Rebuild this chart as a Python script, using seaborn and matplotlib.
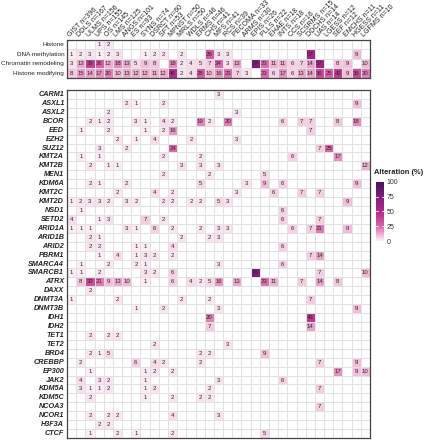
import matplotlib
matplotlib.use("Agg")
import matplotlib.pyplot as plt
from matplotlib.colors import LinearSegmentedColormap
import pandas as pd
import seaborn as sns

# column labels (sarcoma subtype, cohort size)
subtypes = ["GIST n=396", "DDLS n=167", "ULMS n=156", "UPS n=155", "OS n=145",
            "LMS n=125", "ANGS n=101", "ES n=93", "SYNS n=74", "DSRCT n=60",
            "SFT n=53", "MPNST n=50", "MRLS n=50", "WDLS n=46", "ERMS n=46",
            "CHS n=41", "MFS n=41", "RCS n=39", "PECOMA n=33", "ARMS n=30",
            "EPIS n=26", "PLLS n=22", "EHAE n=18", "INTS n=18", "CCS n=16",
            "SCSRMS n=15", "DDCHS n=14", "UAS n=14", "LGESS n=12", "SEF n=12",
            "EMCHS n=11", "HGESS n=11", "LGFMS n=10"]

# top panel: alteration (%) per functional class, 0 = none
categories = ["Histone", "DNA methylation", "Chromatin remodeling", "Histone modifying"]
histone = [0, 0, 0, 1, 2, 0, 0, 0, 0, 0, 0, 0, 0, 0, 0, 0, 0, 0, 0, 0, 0, 0, 0, 0, 0, 0, 0, 0, 0, 0, 0, 0, 0]
dna_methylation = [1, 2, 3, 1, 2, 3, 0, 0, 1, 2, 2, 0, 2, 0, 0, 29, 3, 3, 0, 0, 0, 0, 0, 0, 0, 0, 57, 0, 0, 0, 0, 9, 0]
chromatin_remodeling = [3, 13, 39, 26, 12, 18, 13, 5, 9, 8, 0, 18, 2, 4, 5, 7, 24, 3, 13, 0, 76, 23, 11, 11, 6, 7, 14, 57, 0, 8, 9, 0, 10]
histone_modifying = [8, 15, 14, 17, 20, 10, 13, 12, 12, 11, 12, 48, 2, 4, 28, 10, 16, 23, 7, 3, 0, 23, 6, 17, 6, 13, 14, 36, 25, 42, 9, 36, 20]

# bottom panel: alteration (%) per gene, 0 = none
genes = ["CARM1", "ASXL1", "ASXL2", "BCOR", "EED", "EZH2", "SUZ12", "KMT2A", "KMT2B",
         "MEN1", "KDM6A", "KMT2C", "KMT2D", "NSD1", "SETD2", "ARID1A", "ARID1B", "ARID2",
         "PBRM1", "SMARCA4", "SMARCB1", "ATRX", "DAXX", "DNMT3A", "DNMT3B", "IDH1", "IDH2",
         "TET1", "TET2", "BRD4", "CREBBP", "EP300", "JAK2", "KDM5A", "KDM5C", "NCOA3",
         "NCOR1", "H3F3A", "CTCF"]
carm1 = [0, 0, 0, 0, 0, 0, 0, 0, 0, 0, 0, 0, 0, 0, 0, 0, 3, 0, 0, 0, 0, 0, 0, 0, 0, 0, 0, 0, 0, 0, 0, 0, 0]
asxl1 = [0, 0, 0, 0, 0, 0, 2, 1, 0, 0, 2, 0, 0, 0, 0, 0, 0, 0, 0, 0, 0, 0, 0, 0, 0, 0, 0, 0, 0, 0, 0, 9, 0]
asxl2 = [0, 0, 0, 0, 2, 0, 0, 0, 0, 0, 0, 0, 0, 0, 0, 0, 0, 0, 3, 0, 0, 0, 0, 0, 0, 0, 0, 0, 0, 0, 0, 0, 0]
bcor = [0, 0, 2, 1, 2, 0, 0, 3, 1, 0, 4, 2, 0, 0, 19, 2, 0, 20, 0, 0, 0, 0, 0, 6, 0, 7, 7, 0, 0, 8, 0, 18, 0]
eed = [0, 1, 0, 0, 2, 0, 0, 0, 1, 0, 2, 16, 0, 0, 0, 0, 0, 0, 0, 0, 0, 0, 0, 0, 0, 0, 7, 0, 0, 0, 0, 0, 0]
ezh2 = [0, 0, 0, 0, 0, 2, 0, 1, 0, 4, 0, 0, 0, 2, 0, 0, 0, 0, 3, 0, 0, 0, 0, 0, 0, 0, 0, 0, 0, 0, 0, 0, 0]
suz12 = [0, 0, 0, 3, 0, 0, 2, 0, 0, 0, 0, 24, 0, 0, 0, 0, 0, 0, 0, 0, 0, 0, 0, 0, 0, 0, 0, 7, 25, 0, 0, 0, 0]
kmt2a = [0, 1, 0, 1, 0, 0, 0, 0, 0, 0, 2, 0, 0, 0, 2, 0, 0, 0, 0, 0, 0, 0, 0, 0, 6, 0, 0, 0, 0, 17, 0, 0, 0]
kmt2b = [0, 0, 2, 0, 1, 1, 0, 0, 0, 0, 0, 0, 3, 0, 3, 0, 3, 0, 0, 0, 0, 0, 0, 0, 0, 0, 0, 0, 0, 0, 0, 0, 12]
men1 = [0, 0, 0, 0, 0, 0, 0, 0, 0, 0, 2, 0, 0, 0, 0, 2, 0, 0, 0, 0, 0, 5, 0, 0, 0, 0, 0, 0, 0, 0, 0, 0, 0]
kdm6a = [0, 0, 2, 1, 0, 0, 2, 0, 0, 0, 0, 0, 0, 0, 5, 0, 0, 0, 0, 3, 0, 9, 0, 6, 0, 0, 0, 0, 0, 0, 0, 9, 0]
kmt2c = [0, 0, 0, 0, 0, 2, 0, 0, 0, 4, 0, 2, 0, 0, 0, 0, 0, 0, 3, 0, 0, 0, 6, 0, 0, 7, 0, 7, 0, 0, 0, 0, 0]
kmt2d = [1, 2, 3, 3, 2, 0, 3, 2, 0, 0, 2, 2, 0, 2, 2, 0, 5, 3, 0, 0, 0, 0, 0, 0, 0, 0, 0, 0, 0, 0, 9, 0, 0]
nsd1 = [0, 1, 0, 0, 0, 0, 0, 0, 0, 0, 0, 0, 0, 0, 0, 0, 0, 0, 0, 0, 0, 0, 0, 6, 0, 0, 0, 0, 0, 0, 0, 0, 0]
setd2 = [4, 0, 0, 1, 3, 0, 0, 0, 7, 0, 2, 0, 0, 0, 0, 0, 0, 0, 0, 0, 0, 0, 0, 6, 0, 0, 0, 7, 0, 0, 0, 0, 0]
arid1a = [1, 1, 1, 0, 0, 0, 3, 1, 0, 6, 0, 2, 0, 0, 2, 0, 3, 3, 0, 0, 0, 0, 0, 0, 6, 0, 7, 21, 0, 0, 9, 0, 0]
arid1b = [0, 0, 2, 1, 0, 0, 0, 0, 0, 0, 0, 0, 2, 0, 0, 2, 3, 0, 0, 0, 0, 0, 0, 0, 0, 0, 0, 0, 0, 0, 0, 0, 0]
arid2 = [0, 0, 2, 2, 0, 0, 0, 1, 1, 0, 0, 4, 0, 0, 0, 0, 0, 0, 0, 0, 0, 0, 0, 6, 0, 0, 0, 0, 0, 0, 0, 0, 0]
pbrm1 = [0, 0, 0, 1, 0, 4, 0, 1, 3, 2, 0, 2, 0, 0, 0, 0, 0, 0, 0, 0, 0, 0, 0, 0, 0, 0, 7, 14, 0, 0, 0, 0, 0]
smarca4 = [0, 1, 0, 0, 2, 0, 0, 2, 1, 0, 0, 0, 0, 0, 0, 0, 3, 0, 0, 0, 0, 0, 0, 6, 0, 0, 0, 0, 0, 0, 0, 0, 0]
smarcb1 = [1, 1, 0, 2, 0, 0, 0, 0, 3, 2, 0, 6, 0, 0, 0, 0, 0, 0, 0, 0, 76, 0, 0, 0, 0, 0, 0, 7, 0, 0, 0, 0, 10]
atrx = [0, 8, 33, 21, 9, 13, 10, 0, 1, 0, 0, 6, 0, 4, 2, 5, 16, 0, 13, 0, 0, 23, 11, 0, 0, 7, 0, 14, 0, 8, 0, 0, 0]
daxx = [0, 0, 2, 0, 0, 0, 0, 0, 0, 0, 0, 0, 0, 0, 0, 0, 0, 0, 0, 0, 0, 0, 0, 0, 0, 0, 0, 0, 0, 0, 0, 0, 0]
dnmt3a = [1, 0, 0, 0, 0, 2, 0, 0, 0, 0, 0, 0, 2, 0, 0, 2, 0, 0, 0, 0, 0, 0, 0, 0, 0, 0, 7, 0, 0, 0, 0, 0, 0]
dnmt3b = [0, 0, 0, 0, 0, 0, 0, 1, 0, 0, 2, 0, 0, 0, 0, 0, 3, 0, 0, 0, 0, 0, 0, 0, 0, 0, 0, 0, 0, 0, 0, 9, 0]
idh1 = [0, 0, 0, 0, 0, 0, 0, 0, 0, 0, 0, 0, 0, 0, 0, 20, 0, 0, 0, 0, 0, 0, 0, 0, 0, 0, 43, 0, 0, 0, 0, 0, 0]
idh2 = [0, 0, 0, 0, 0, 0, 0, 0, 0, 0, 0, 0, 0, 0, 0, 7, 0, 0, 0, 0, 0, 0, 0, 0, 0, 0, 14, 0, 0, 0, 0, 0, 0]
tet1 = [0, 0, 2, 0, 2, 2, 0, 0, 0, 0, 0, 0, 0, 0, 0, 0, 0, 0, 0, 0, 0, 0, 0, 0, 0, 0, 0, 0, 0, 0, 0, 0, 0]
tet2 = [0, 0, 0, 0, 0, 0, 0, 0, 0, 2, 0, 0, 0, 0, 0, 0, 0, 3, 0, 0, 0, 0, 0, 0, 0, 0, 0, 0, 0, 0, 0, 0, 0]
brd4 = [0, 0, 2, 1, 5, 0, 0, 0, 0, 0, 0, 0, 0, 0, 2, 2, 0, 0, 0, 0, 0, 9, 0, 0, 0, 0, 0, 0, 0, 0, 0, 0, 0]
crebbp = [0, 2, 0, 0, 0, 0, 0, 6, 0, 4, 2, 0, 0, 0, 2, 0, 0, 0, 0, 0, 0, 0, 0, 0, 0, 0, 0, 7, 0, 0, 0, 9, 0]
ep300 = [0, 0, 1, 0, 0, 0, 0, 0, 1, 2, 0, 2, 0, 0, 0, 0, 0, 0, 0, 0, 0, 0, 0, 0, 0, 0, 0, 0, 0, 17, 0, 9, 10]
jak2 = [0, 4, 0, 3, 2, 0, 0, 0, 1, 0, 0, 0, 0, 0, 0, 0, 3, 0, 0, 0, 0, 0, 0, 6, 0, 0, 0, 0, 0, 0, 0, 0, 0]
kdm5a = [0, 3, 1, 1, 2, 0, 0, 0, 1, 2, 0, 0, 0, 0, 0, 2, 0, 0, 0, 0, 0, 0, 0, 0, 0, 0, 0, 7, 0, 0, 0, 0, 0]
kdm5c = [0, 0, 2, 0, 0, 0, 0, 0, 1, 0, 0, 2, 0, 0, 2, 2, 0, 0, 0, 0, 0, 0, 0, 0, 0, 0, 0, 0, 0, 0, 0, 0, 0]
ncoa3 = [0, 0, 0, 0, 0, 0, 0, 0, 0, 0, 0, 0, 0, 0, 0, 0, 0, 0, 0, 0, 0, 0, 0, 0, 0, 0, 0, 7, 0, 0, 0, 0, 0]
ncor1 = [0, 0, 2, 0, 2, 2, 0, 0, 0, 0, 0, 4, 0, 0, 0, 0, 3, 0, 0, 0, 0, 0, 0, 0, 0, 0, 0, 0, 0, 0, 0, 0, 0]
h3f3a = [0, 0, 0, 2, 2, 0, 0, 0, 0, 0, 0, 0, 0, 0, 0, 0, 0, 0, 0, 0, 0, 0, 0, 0, 0, 0, 0, 0, 0, 0, 0, 0, 0]
ctcf = [0, 0, 1, 0, 0, 2, 0, 1, 0, 0, 0, 2, 0, 0, 0, 0, 0, 0, 0, 0, 0, 5, 0, 0, 0, 0, 0, 0, 0, 0, 0, 0, 0]

sns.set_style("white")
plt.rcParams["font.family"] = ["Liberation Sans", "DejaVu Sans"]

top = pd.DataFrame([histone, dna_methylation, chromatin_remodeling, histone_modifying],
                   index=categories, columns=subtypes)
bottom = pd.DataFrame([carm1, asxl1, asxl2, bcor, eed, ezh2, suz12, kmt2a, kmt2b, men1,
                       kdm6a, kmt2c, kmt2d, nsd1, setd2, arid1a, arid1b, arid2, pbrm1,
                       smarca4, smarcb1, atrx, daxx, dnmt3a, dnmt3b, idh1, idh2, tet1,
                       tet2, brd4, crebbp, ep300, jak2, kdm5a, kdm5c, ncoa3, ncor1,
                       h3f3a, ctcf], index=genes, columns=subtypes)

# 0 stays white (empty cell), anything above is already pink
cmap = LinearSegmentedColormap.from_list("alt", [
    (0.0, "#ffffff"), (0.005, "#fdeef5"), (0.1, "#f2b9d6"), (0.25, "#d962a8"),
    (0.5, "#b02a88"), (0.75, "#7d1f7e"), (1.0, "#4a1259")])

def labels(df):
    return df.map(lambda v: str(v) if v > 0 else "")

W, H = 424, 440
fig = plt.figure(figsize=(W / 100, H / 100), dpi=100)
ax_top = fig.add_axes([67 / W, 1 - 78 / H, 303 / W, 38 / H])
ax_bot = fig.add_axes([67 / W, 1 - 438 / H, 303 / W, 348 / H])
cbar_ax = fig.add_axes([376 / W, 1 - 241 / H, 8 / W, 59 / H])

common = dict(cmap=cmap, vmin=0, vmax=100, fmt="", linewidths=0.5, linecolor="#e2e2e2",
              xticklabels=True, yticklabels=True,
              annot_kws={"fontsize": 4.3, "color": "#2a2a2a"})
sns.heatmap(top, ax=ax_top, annot=labels(top), cbar=False, **common)
sns.heatmap(bottom, ax=ax_bot, annot=labels(bottom), cbar=True, cbar_ax=cbar_ax,
            cbar_kws={"ticks": [0, 25, 50, 75, 100]}, **common)

ax_top.xaxis.tick_top()
ax_top.set_xticklabels(subtypes, rotation=45, ha="left", va="bottom",
                       rotation_mode="anchor", fontsize=5, color="#222222")
ax_top.set_yticklabels(categories, rotation=0, fontsize=4.6, color="#222222")
ax_bot.set_xticks([])
ax_bot.set_yticklabels(genes, rotation=0, fontsize=5.2, fontweight="bold",
                       fontstyle="italic", color="#222222")
for ax in (ax_top, ax_bot):
    ax.tick_params(length=0, pad=2)
    ax.set_xlabel("")
    ax.set_ylabel("")
    for sp in ax.spines.values():
        sp.set_visible(True)
        sp.set_color("#444444")
        sp.set_linewidth(0.9)
ax_top.tick_params(axis="x", pad=1)

cbar = ax_bot.collections[0].colorbar
cbar.outline.set_visible(False)
cbar.ax.tick_params(length=0, labelsize=5, pad=2, colors="#333333")
for t in [25, 50, 75]:
    cbar.ax.axhline(t, xmin=0, xmax=0.2, color="white", lw=0.6)
    cbar.ax.axhline(t, xmin=0.8, xmax=1, color="white", lw=0.6)
fig.text(374 / W, 1 - 172 / H, "Alteration (%)", fontsize=5.4, fontweight="bold",
         color="#222222", va="center", ha="left")

fig.savefig("out.png", dpi=100)
